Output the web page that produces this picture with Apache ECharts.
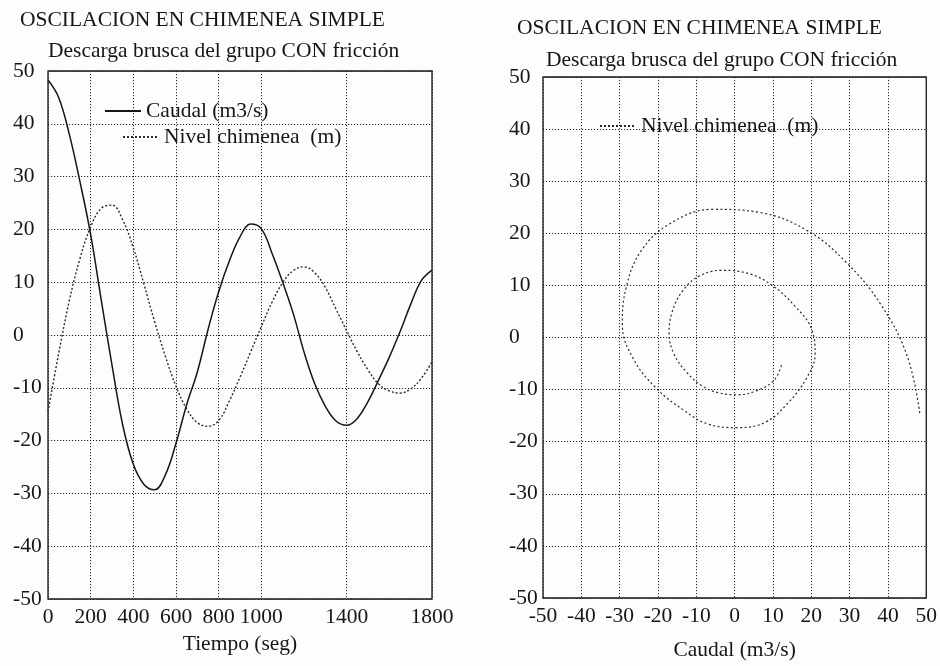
<!DOCTYPE html>
<html>
<head>
<meta charset="utf-8">
<script src="https://cdn.jsdelivr.net/npm/echarts@6/dist/echarts.min.js"></script>
<style>
  html, body { margin: 0; padding: 0; background: #fdfdfd; }
  #chart { width: 940px; height: 666px; }
</style>
</head>
<body>
<div id="chart"></div>
<script>
// Sample times (s) shared by both series
const tiempo = [0, 50, 100, 150, 200, 250, 300, 350, 400, 450, 500, 550, 600, 650, 700, 750, 800, 850, 900,
  950, 1000, 1050, 1100, 1150, 1200, 1250, 1300, 1350, 1400, 1450, 1500, 1550, 1600, 1650, 1700, 1750, 1800];

// Flow through the tunnel (m3/s)
const caudal = [48.3, 45, 38, 29, 19, 6.5, -5.7, -17, -24.5, -28.3, -29.3, -26.5, -20.5, -13.2, -7, 1, 8.2, 14, 18.6,
  21, 20.1, 15.5, 10, 4, -3.2, -9.2, -13.5, -16.3, -17.1, -15.8, -12.6, -8.5, -4.2, 0.6, 5.8, 10.3, 12.3];

// Water level in the surge tank (m)
const nivel = [-14.5, -3.5, 6.5, 14.5, 20.5, 24, 24.6, 21.8, 16.5, 9.6, 2.5, -4, -9.7, -14, -16.6, -17.3, -16.2, -12.5, -8,
  -3.2, 1.6, 6.2, 9.9, 12.2, 12.9, 11.8, 9.0, 4.9, 0.8, -3.2, -6.6, -9.3, -10.6, -11.0, -10.2, -8.2, -5.1];

const tiempoTicks = [0, 200, 400, 600, 800, 1000, 1400, 1800];

const tituloPrincipal = 'OSCILACION EN CHIMENEA SIMPLE';
const subtitulo = 'Descarga brusca del grupo CON fricción';
const nombreCaudal = 'Caudal (m3/s)';
const nombreNivel = 'Nivel chimenea  (m)';
const nombreTiempo = 'Tiempo (seg)';

const FONT = '"Liberation Serif", "DejaVu Serif", serif';
const INK = '#161616';
const SIZE = 21.5;

const serieTiempo = (vals) => tiempo.map((t, i) => [t, vals[i]]);
const fase = tiempo.map((t, i) => [caudal[i], nivel[i]]);

const gridLine = { show: true, lineStyle: { color: '#2a2a2a', width: 1, type: [1.2, 1.8] } };
const labelStyle = { color: INK, fontFamily: FONT, fontSize: SIZE };
const plain = (v) => String(v);
const titleStyle = { color: INK, fontFamily: FONT, fontSize: SIZE, fontWeight: 'normal' };
const legendCommon = {
  padding: 0, itemWidth: 36, itemHeight: 12, itemGap: 0,
  itemStyle: { opacity: 0 },
  textStyle: labelStyle
};

const chart = echarts.init(document.getElementById('chart'));
chart.setOption({
  backgroundColor: '#fdfdfd',
  animation: false,
  title: [
    { text: tituloPrincipal, left: 20, top: 9, padding: 0, textStyle: titleStyle },
    { text: subtitulo, left: 48, top: 40, padding: 0, textStyle: titleStyle },
    { text: tituloPrincipal, left: 517, top: 17, padding: 0, textStyle: titleStyle },
    { text: subtitulo, left: 546, top: 49, padding: 0, textStyle: titleStyle }
  ],
  legend: [
    Object.assign({ data: [nombreCaudal], left: 104, top: 100 }, legendCommon),
    Object.assign({ data: [nombreNivel], left: 122, top: 126 }, legendCommon),
    Object.assign({ data: [nombreNivel], left: 599, top: 115 }, legendCommon)
  ],
  grid: [
    { left: 48, top: 71, width: 384, height: 528, show: true, borderColor: INK, borderWidth: 1.3, backgroundColor: 'transparent' },
    { left: 543, top: 77, width: 384, height: 527, show: true, borderColor: INK, borderWidth: 1.3, backgroundColor: 'transparent' }
  ],
  xAxis: [
    {
      gridIndex: 0, type: 'value', min: 0, max: 1800,
      name: nombreTiempo, nameLocation: 'middle', nameGap: 33, nameTextStyle: labelStyle,
      axisLine: { show: false },
      axisTick: { show: false, customValues: tiempoTicks },
      axisLabel: Object.assign({ margin: 7, customValues: tiempoTicks, formatter: plain }, labelStyle),
      splitLine: gridLine
    },
    {
      gridIndex: 1, type: 'value', min: -50, max: 50, interval: 10,
      name: nombreCaudal, nameLocation: 'middle', nameGap: 41, nameTextStyle: labelStyle,
      axisLine: { show: false },
      axisTick: { show: false },
      axisLabel: Object.assign({ margin: 7, formatter: plain }, labelStyle),
      splitLine: gridLine
    }
  ],
  yAxis: [
    {
      gridIndex: 0, type: 'value', min: -50, max: 50, interval: 10,
      axisLine: { show: false },
      axisTick: { show: false },
      axisLabel: Object.assign({ margin: 35, align: 'left', formatter: plain }, labelStyle),
      splitLine: gridLine
    },
    {
      gridIndex: 1, type: 'value', min: -50, max: 50, interval: 10,
      axisLine: { show: false },
      axisTick: { show: false },
      axisLabel: Object.assign({ margin: 34, align: 'left', formatter: plain }, labelStyle),
      splitLine: gridLine
    }
  ],
  series: [
    {
      name: nombreCaudal, type: 'line', xAxisIndex: 0, yAxisIndex: 0,
      data: serieTiempo(caudal), smooth: 0.4, symbol: 'none',
      lineStyle: { color: INK, width: 1.5 }, itemStyle: { color: INK }
    },
    {
      name: nombreNivel, type: 'line', xAxisIndex: 0, yAxisIndex: 0,
      data: serieTiempo(nivel), smooth: 0.4, symbol: 'none',
      lineStyle: { color: '#2a2a2a', width: 1.4, type: [2, 2] }, itemStyle: { color: '#2a2a2a' }
    },
    {
      name: nombreNivel, type: 'line', xAxisIndex: 1, yAxisIndex: 1,
      data: fase, smooth: 0.4, symbol: 'none',
      lineStyle: { color: '#2a2a2a', width: 1.2, type: [2, 2.5] }, itemStyle: { color: '#2a2a2a' }
    }
  ]
});
</script>
</body>
</html>
